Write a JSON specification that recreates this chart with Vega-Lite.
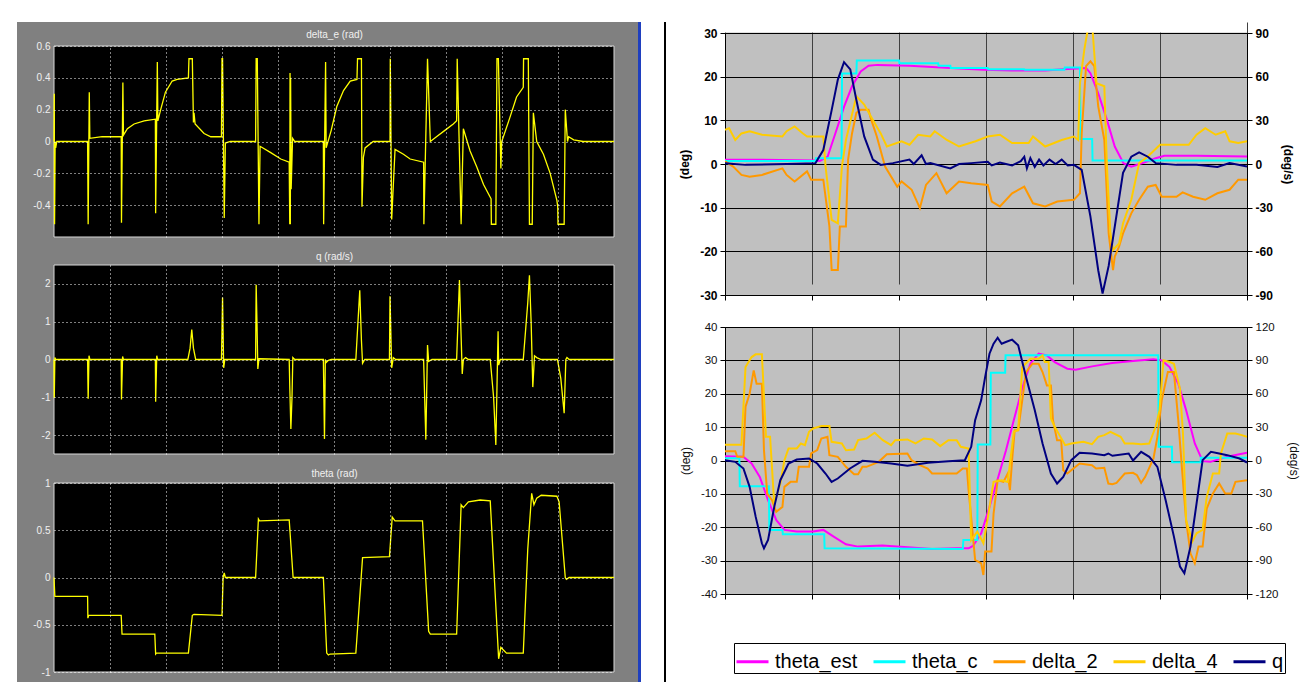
{
"$schema": "https://vega.github.io/schema/vega-lite/v6.json",
"background": "white",
"padding": {"left": 17, "top": 19, "right": 0, "bottom": 0},
"config": {
  "font": "Liberation Sans",
  "view": {"stroke": null},
  "legend": {"orient": "none", "legendX": 717, "legendY": 621, "direction": "horizontal", "symbolType": "stroke", "symbolSize": 1024, "symbolStrokeWidth": 3, "labelFontSize": 20, "labelFont": "Liberation Sans", "labelColor": "#000000", "labelOffset": 5, "columnPadding": 9, "padding": 1, "strokeColor": "#000000", "fillColor": "#ffffff", "symbolOpacity": 1}
},
"datasets": {
"de": [{"t":0,"v":0},{"t":0.005,"v":0.30},{"t":0.01,"v":-0.52},{"t":0.02,"v":0},{"t":0.03,"v":-0.04},{"t":0.05,"v":0},{"t":0.6,"v":0},{"t":0.61,"v":-0.52},{"t":0.63,"v":0.31},{"t":0.64,"v":0.02},{"t":0.86,"v":0.03},{"t":1.2,"v":0.03},{"t":1.205,"v":-0.51},{"t":1.23,"v":0.37},{"t":1.24,"v":0.04},{"t":1.31,"v":0.08},{"t":1.43,"v":0.11},{"t":1.61,"v":0.13},{"t":1.81,"v":0.14},{"t":1.815,"v":-0.45},{"t":1.845,"v":0.5},{"t":1.855,"v":0.13},{"t":1.905,"v":0.2},{"t":1.99,"v":0.31},{"t":2.11,"v":0.38},{"t":2.2,"v":0.39},{"t":2.4,"v":0.4},{"t":2.41,"v":0.52},{"t":2.47,"v":0.52},{"t":2.49,"v":0.12},{"t":2.5,"v":0.18},{"t":2.52,"v":0.11},{"t":2.68,"v":0.05},{"t":2.8,"v":0.03},{"t":2.99,"v":0.03},{"t":3.0,"v":0.52},{"t":3.01,"v":0.52},{"t":3.04,"v":-0.48},{"t":3.06,"v":-0.01},{"t":3.15,"v":0},{"t":3.6,"v":0},{"t":3.61,"v":0.52},{"t":3.63,"v":0.52},{"t":3.66,"v":-0.52},{"t":3.68,"v":-0.03},{"t":3.87,"v":-0.07},{"t":4.05,"v":-0.11},{"t":4.2,"v":-0.13},{"t":4.21,"v":-0.52},{"t":4.215,"v":0.43},{"t":4.22,"v":-0.52},{"t":4.225,"v":0.4},{"t":4.235,"v":-0.3},{"t":4.26,"v":0.02},{"t":4.3,"v":0},{"t":4.81,"v":0},{"t":4.815,"v":-0.52},{"t":4.85,"v":0.5},{"t":4.86,"v":-0.04},{"t":4.95,"v":0.07},{"t":5.05,"v":0.22},{"t":5.17,"v":0.32},{"t":5.29,"v":0.38},{"t":5.41,"v":0.39},{"t":5.42,"v":0.52},{"t":5.49,"v":0.52},{"t":5.5,"v":-0.41},{"t":5.525,"v":-0.1},{"t":5.555,"v":-0.04},{"t":5.7,"v":0},{"t":6.0,"v":0},{"t":6.005,"v":0.52},{"t":6.03,"v":-0.49},{"t":6.09,"v":-0.05},{"t":6.24,"v":-0.08},{"t":6.36,"v":-0.11},{"t":6.6,"v":-0.13},{"t":6.605,"v":-0.52},{"t":6.67,"v":0.52},{"t":6.72,"v":0},{"t":6.83,"v":0.03},{"t":6.98,"v":0.07},{"t":7.13,"v":0.11},{"t":7.19,"v":0.13},{"t":7.2,"v":0.52},{"t":7.27,"v":-0.52},{"t":7.31,"v":0.08},{"t":7.43,"v":-0.06},{"t":7.55,"v":-0.16},{"t":7.67,"v":-0.27},{"t":7.79,"v":-0.35},{"t":7.805,"v":-0.36},{"t":7.81,"v":-0.52},{"t":7.89,"v":-0.52},{"t":7.91,"v":0.52},{"t":7.935,"v":0.52},{"t":7.98,"v":-0.17},{"t":7.995,"v":0},{"t":8.14,"v":0.15},{"t":8.26,"v":0.28},{"t":8.38,"v":0.34},{"t":8.385,"v":0.52},{"t":8.47,"v":0.52},{"t":8.49,"v":-0.52},{"t":8.54,"v":-0.52},{"t":8.56,"v":0.18},{"t":8.62,"v":0},{"t":8.74,"v":-0.08},{"t":8.86,"v":-0.2},{"t":8.98,"v":-0.37},{"t":8.995,"v":-0.41},{"t":9.0,"v":-0.52},{"t":9.11,"v":-0.52},{"t":9.13,"v":0.2},{"t":9.17,"v":0},{"t":9.19,"v":0.03},{"t":9.28,"v":0.01},{"t":9.45,"v":0},{"t":10,"v":0}],
"qs": [{"t":0,"v":0},{"t":0.005,"v":-1.02},{"t":0.015,"v":0.05},{"t":0.03,"v":0},{"t":0.6,"v":0},{"t":0.61,"v":-1.04},{"t":0.625,"v":0.1},{"t":0.64,"v":0},{"t":1.2,"v":0},{"t":1.205,"v":-1.06},{"t":1.225,"v":0.08},{"t":1.24,"v":0},{"t":1.81,"v":0},{"t":1.815,"v":-1.12},{"t":1.835,"v":0.1},{"t":1.85,"v":0},{"t":2.39,"v":0},{"t":2.43,"v":0.3},{"t":2.46,"v":0.79},{"t":2.49,"v":0.3},{"t":2.53,"v":0},{"t":2.99,"v":0},{"t":3.0,"v":0.8},{"t":3.01,"v":1.64},{"t":3.03,"v":-0.22},{"t":3.05,"v":0},{"t":3.6,"v":0},{"t":3.61,"v":1.98},{"t":3.625,"v":0.95},{"t":3.64,"v":-0.25},{"t":3.66,"v":0.02},{"t":4.2,"v":0},{"t":4.21,"v":-0.7},{"t":4.23,"v":-1.84},{"t":4.25,"v":-1.0},{"t":4.265,"v":0.05},{"t":4.3,"v":0},{"t":4.81,"v":0},{"t":4.83,"v":-2.1},{"t":4.845,"v":0},{"t":4.86,"v":-0.08},{"t":4.9,"v":-0.02},{"t":4.95,"v":0},{"t":5.39,"v":0},{"t":5.46,"v":1.83},{"t":5.49,"v":0.5},{"t":5.51,"v":-0.1},{"t":5.55,"v":0},{"t":5.99,"v":0},{"t":6.0,"v":1.67},{"t":6.03,"v":-0.22},{"t":6.06,"v":0.05},{"t":6.1,"v":0},{"t":6.6,"v":0},{"t":6.64,"v":-2.12},{"t":6.67,"v":0.38},{"t":6.69,"v":-0.05},{"t":6.75,"v":0},{"t":7.19,"v":0},{"t":7.24,"v":2.1},{"t":7.29,"v":-0.38},{"t":7.31,"v":0},{"t":7.35,"v":0.05},{"t":7.4,"v":0},{"t":7.79,"v":0},{"t":7.85,"v":-1.0},{"t":7.89,"v":-2.26},{"t":7.93,"v":0.75},{"t":7.94,"v":-0.15},{"t":7.97,"v":0},{"t":8.38,"v":0},{"t":8.46,"v":1.5},{"t":8.49,"v":2.23},{"t":8.52,"v":1.0},{"t":8.55,"v":-0.73},{"t":8.58,"v":0.1},{"t":8.62,"v":0.05},{"t":8.7,"v":0},{"t":8.99,"v":0},{"t":9.05,"v":-0.5},{"t":9.11,"v":-1.42},{"t":9.14,"v":0},{"t":9.16,"v":0.05},{"t":9.2,"v":0},{"t":10,"v":0}],
"th": [{"t":0,"v":0},{"t":0.015,"v":-0.2},{"t":0.6,"v":-0.2},{"t":0.605,"v":-0.43},{"t":0.62,"v":-0.4},{"t":1.2,"v":-0.4},{"t":1.215,"v":-0.6},{"t":1.8,"v":-0.6},{"t":1.815,"v":-0.81},{"t":1.83,"v":-0.8},{"t":2.4,"v":-0.8},{"t":2.47,"v":-0.4},{"t":2.5,"v":-0.39},{"t":3.0,"v":-0.4},{"t":3.02,"v":0},{"t":3.04,"v":0.05},{"t":3.06,"v":0},{"t":3.6,"v":0},{"t":3.65,"v":0.62},{"t":3.67,"v":0.6},{"t":4.2,"v":0.61},{"t":4.27,"v":0},{"t":4.81,"v":0},{"t":4.87,"v":-0.8},{"t":4.9,"v":-0.82},{"t":4.93,"v":-0.81},{"t":5.39,"v":-0.8},{"t":5.51,"v":0.21},{"t":5.99,"v":0.22},{"t":6.04,"v":0.64},{"t":6.09,"v":0.6},{"t":6.58,"v":0.6},{"t":6.69,"v":-0.57},{"t":6.72,"v":-0.6},{"t":7.19,"v":-0.6},{"t":7.27,"v":0.77},{"t":7.31,"v":0.74},{"t":7.4,"v":0.8},{"t":7.61,"v":0.82},{"t":7.79,"v":0.81},{"t":7.94,"v":-0.86},{"t":7.98,"v":-0.74},{"t":8.08,"v":-0.8},{"t":8.38,"v":-0.8},{"t":8.46,"v":0.3},{"t":8.53,"v":0.89},{"t":8.57,"v":0.77},{"t":8.62,"v":0.84},{"t":8.7,"v":0.87},{"t":8.98,"v":0.86},{"t":9.02,"v":0.8},{"t":9.13,"v":0},{"t":9.15,"v":-0.02},{"t":9.2,"v":0},{"t":10,"v":0}],
"a_est": [{"t":0,"v":1.0},{"t":0.24,"v":1.0},{"t":1.04,"v":0.8},{"t":1.09,"v":0.7},{"t":1.18,"v":1.7},{"t":1.27,"v":7.1},{"t":1.37,"v":13.2},{"t":1.46,"v":17.8},{"t":1.56,"v":21.2},{"t":1.65,"v":22.5},{"t":1.75,"v":22.7},{"t":2.12,"v":22.5},{"t":2.59,"v":22.0},{"t":2.97,"v":21.6},{"t":3.3,"v":21.4},{"t":3.68,"v":21.4},{"t":3.89,"v":21.7},{"t":4.15,"v":22.0},{"t":4.2,"v":20.8},{"t":4.29,"v":16.2},{"t":4.39,"v":10.1},{"t":4.48,"v":4.0},{"t":4.58,"v":0.2},{"t":4.67,"v":-0.6},{"t":4.81,"v":0.3},{"t":4.95,"v":1.3},{"t":5.05,"v":1.9},{"t":5.42,"v":1.9},{"t":6.0,"v":1.7}],
"a_c": [{"t":0,"v":0.7},{"t":1.04,"v":0.7},{"t":1.045,"v":1.3},{"t":1.34,"v":1.3},{"t":1.345,"v":20.7},{"t":1.51,"v":20.7},{"t":1.515,"v":23.7},{"t":2.0,"v":23.7},{"t":2.005,"v":23.1},{"t":2.45,"v":23.1},{"t":2.455,"v":22.5},{"t":2.59,"v":22.5},{"t":2.595,"v":22.0},{"t":3.02,"v":22.0},{"t":3.025,"v":21.7},{"t":3.44,"v":21.7},{"t":3.445,"v":21.6},{"t":3.9,"v":21.6},{"t":3.905,"v":22.1},{"t":4.08,"v":22.1},{"t":4.085,"v":5.7},{"t":4.22,"v":5.7},{"t":4.225,"v":0.8},{"t":6.0,"v":0.8}],
"a_d2": [{"t":0,"v":0.6},{"t":0.094,"v":-0.6},{"t":0.189,"v":-2.5},{"t":0.283,"v":-2.9},{"t":0.425,"v":-2.5},{"t":0.66,"v":-1.0},{"t":0.708,"v":-2.5},{"t":0.8,"v":-4.0},{"t":0.943,"v":-1.7},{"t":0.99,"v":-3.6},{"t":1.13,"v":-3.6},{"t":1.17,"v":-9.7},{"t":1.2,"v":-14.3},{"t":1.226,"v":-24.3},{"t":1.297,"v":-24.3},{"t":1.32,"v":-14.3},{"t":1.39,"v":-14.3},{"t":1.415,"v":1.0},{"t":1.46,"v":7.0},{"t":1.51,"v":11.7},{"t":1.557,"v":12.4},{"t":1.65,"v":12.4},{"t":1.675,"v":10.5},{"t":1.745,"v":6.3},{"t":1.84,"v":-0.6},{"t":1.98,"v":-5.2},{"t":2.03,"v":-4.0},{"t":2.146,"v":-5.9},{"t":2.24,"v":-10.1},{"t":2.31,"v":-4.8},{"t":2.43,"v":-2.1},{"t":2.547,"v":-6.7},{"t":2.69,"v":-4.0},{"t":2.83,"v":-4.4},{"t":3.02,"v":-4.8},{"t":3.066,"v":-8.6},{"t":3.16,"v":-9.7},{"t":3.3,"v":-6.7},{"t":3.44,"v":-5.2},{"t":3.54,"v":-9.0},{"t":3.68,"v":-9.7},{"t":3.82,"v":-8.6},{"t":4.01,"v":-8.2},{"t":4.08,"v":-6.7},{"t":4.1,"v":7.0},{"t":4.15,"v":22.4},{"t":4.2,"v":23.5},{"t":4.245,"v":22.4},{"t":4.29,"v":13.2},{"t":4.36,"v":5.5},{"t":4.41,"v":-15.9},{"t":4.46,"v":-24.3},{"t":4.48,"v":-21.2},{"t":4.53,"v":-18.9},{"t":4.575,"v":-15.9},{"t":4.67,"v":-11.3},{"t":4.76,"v":-8.2},{"t":4.86,"v":-5.2},{"t":4.95,"v":-4.8},{"t":5.02,"v":-7.5},{"t":5.19,"v":-7.5},{"t":5.26,"v":-6.5},{"t":5.38,"v":-7.5},{"t":5.52,"v":-8.2},{"t":5.66,"v":-6.7},{"t":5.8,"v":-5.9},{"t":5.9,"v":-3.6},{"t":6.0,"v":-3.6}],
"a_d4": [{"t":0,"v":7.8},{"t":0.047,"v":8.2},{"t":0.118,"v":5.5},{"t":0.189,"v":7.0},{"t":0.283,"v":7.5},{"t":0.425,"v":6.7},{"t":0.66,"v":6.3},{"t":0.708,"v":7.5},{"t":0.8,"v":8.6},{"t":0.896,"v":7.0},{"t":0.943,"v":6.3},{"t":1.13,"v":6.3},{"t":1.156,"v":-0.6},{"t":1.226,"v":-12.8},{"t":1.297,"v":-13.6},{"t":1.344,"v":-0.6},{"t":1.39,"v":5.5},{"t":1.51,"v":15.5},{"t":1.6,"v":13.6},{"t":1.7,"v":10.1},{"t":1.79,"v":7.0},{"t":1.86,"v":4.0},{"t":2.03,"v":5.2},{"t":2.12,"v":4.4},{"t":2.22,"v":6.7},{"t":2.36,"v":6.3},{"t":2.41,"v":7.5},{"t":2.55,"v":5.5},{"t":2.69,"v":4.0},{"t":2.88,"v":5.2},{"t":3.02,"v":6.3},{"t":3.16,"v":6.7},{"t":3.3,"v":4.8},{"t":3.49,"v":4.8},{"t":3.54,"v":6.3},{"t":3.68,"v":4.0},{"t":3.87,"v":5.5},{"t":4.01,"v":6.3},{"t":4.06,"v":5.5},{"t":4.08,"v":18.5},{"t":4.13,"v":26.2},{"t":4.17,"v":30.8},{"t":4.22,"v":32.0},{"t":4.27,"v":18.5},{"t":4.36,"v":17.8},{"t":4.39,"v":-0.6},{"t":4.43,"v":-15.9},{"t":4.46,"v":-19.7},{"t":4.53,"v":-18.2},{"t":4.575,"v":-13.6},{"t":4.67,"v":-8.2},{"t":4.76,"v":0.2},{"t":4.86,"v":1.7},{"t":5.0,"v":4.4},{"t":5.33,"v":4.4},{"t":5.42,"v":6.7},{"t":5.52,"v":8.2},{"t":5.64,"v":6.7},{"t":5.75,"v":7.5},{"t":5.8,"v":5.2},{"t":5.9,"v":4.8},{"t":6.0,"v":5.2}],
"a_q": [{"t":0,"v":0.6},{"t":0.236,"v":-0.6},{"t":0.708,"v":0},{"t":1.04,"v":0.6},{"t":1.13,"v":9.6},{"t":1.226,"v":37},{"t":1.297,"v":58},{"t":1.368,"v":70},{"t":1.44,"v":65},{"t":1.51,"v":44},{"t":1.6,"v":19},{"t":1.7,"v":3},{"t":1.79,"v":-0.6},{"t":1.93,"v":0.6},{"t":2.12,"v":3},{"t":2.17,"v":0},{"t":2.26,"v":6},{"t":2.31,"v":0},{"t":2.36,"v":0.6},{"t":2.59,"v":-3},{"t":2.69,"v":0},{"t":2.83,"v":0.6},{"t":3.02,"v":1.5},{"t":3.066,"v":-1},{"t":3.16,"v":1},{"t":3.3,"v":-1},{"t":3.4,"v":2},{"t":3.44,"v":5},{"t":3.47,"v":-3},{"t":3.51,"v":4},{"t":3.56,"v":-2},{"t":3.61,"v":3},{"t":3.66,"v":-1},{"t":3.73,"v":3},{"t":3.8,"v":0},{"t":3.87,"v":3},{"t":3.94,"v":-1},{"t":4.01,"v":-0.6},{"t":4.1,"v":-4},{"t":4.2,"v":-36},{"t":4.29,"v":-73},{"t":4.34,"v":-89},{"t":4.41,"v":-70},{"t":4.48,"v":-43},{"t":4.575,"v":-6},{"t":4.67,"v":5},{"t":4.76,"v":8},{"t":4.86,"v":5},{"t":4.95,"v":0.6},{"t":5.19,"v":-0.6},{"t":5.42,"v":-0.6},{"t":5.66,"v":-2},{"t":5.8,"v":0.6},{"t":6.0,"v":-1.8}],
"b_est": [{"t":0,"v":1.3},{"t":0.21,"v":1.1},{"t":0.306,"v":-0.9},{"t":0.4,"v":-4.9},{"t":0.495,"v":-11.9},{"t":0.59,"v":-17.9},{"t":0.683,"v":-20.8},{"t":0.825,"v":-21.3},{"t":1.013,"v":-21.3},{"t":1.13,"v":-20.8},{"t":1.249,"v":-22.8},{"t":1.39,"v":-25.1},{"t":1.53,"v":-25.8},{"t":1.81,"v":-25.5},{"t":2.1,"v":-26.0},{"t":2.38,"v":-26.5},{"t":2.66,"v":-26.3},{"t":2.8,"v":-26.3},{"t":2.85,"v":-25.6},{"t":2.945,"v":-21.8},{"t":3.04,"v":-13.9},{"t":3.13,"v":-5.9},{"t":3.23,"v":3.1},{"t":3.32,"v":12.1},{"t":3.42,"v":22.0},{"t":3.51,"v":29.0},{"t":3.605,"v":32.0},{"t":3.7,"v":31.5},{"t":3.79,"v":29.5},{"t":3.935,"v":27.5},{"t":4.03,"v":27.2},{"t":4.22,"v":28.2},{"t":4.45,"v":29.2},{"t":4.69,"v":29.8},{"t":4.925,"v":30.3},{"t":5.02,"v":30.0},{"t":5.11,"v":28.0},{"t":5.21,"v":23.0},{"t":5.3,"v":15.1},{"t":5.4,"v":5.1},{"t":5.49,"v":-0.2},{"t":5.58,"v":-0.4},{"t":5.77,"v":1.1},{"t":6.0,"v":2.3}],
"b_c": [{"t":0,"v":0.7},{"t":0.165,"v":0.7},{"t":0.17,"v":-7.7},{"t":0.504,"v":-7.7},{"t":0.51,"v":-20.8},{"t":0.66,"v":-20.8},{"t":0.665,"v":-22.1},{"t":1.14,"v":-22.1},{"t":1.145,"v":-26.3},{"t":2.733,"v":-26.5},{"t":2.74,"v":-23.8},{"t":2.9,"v":-23.8},{"t":2.905,"v":4.8},{"t":3.05,"v":4.8},{"t":3.055,"v":26.3},{"t":3.22,"v":26.3},{"t":3.225,"v":31.5},{"t":4.98,"v":31.5},{"t":4.985,"v":4.1},{"t":5.137,"v":4.1},{"t":5.14,"v":-0.5},{"t":5.467,"v":-0.5},{"t":5.47,"v":0.8},{"t":6.0,"v":0.8}],
"b_d2": [{"t":0,"v":2.8},{"t":0.118,"v":2.8},{"t":0.141,"v":1.1},{"t":0.212,"v":1.1},{"t":0.236,"v":16.1},{"t":0.283,"v":20.0},{"t":0.33,"v":27.0},{"t":0.363,"v":23.0},{"t":0.424,"v":23.0},{"t":0.448,"v":3.1},{"t":0.485,"v":-9.9},{"t":0.54,"v":-11.9},{"t":0.589,"v":-15.4},{"t":0.66,"v":-13.9},{"t":0.683,"v":-7.9},{"t":0.754,"v":-6.4},{"t":0.825,"v":-6.4},{"t":0.848,"v":-1.9},{"t":0.966,"v":-1.9},{"t":0.99,"v":2.1},{"t":1.06,"v":3.1},{"t":1.107,"v":6.6},{"t":1.178,"v":7.1},{"t":1.2,"v":1.6},{"t":1.296,"v":1.1},{"t":1.39,"v":-1.9},{"t":1.484,"v":-4.1},{"t":1.53,"v":-4.1},{"t":1.58,"v":-1.9},{"t":1.626,"v":-1.9},{"t":1.767,"v":-0.4},{"t":1.86,"v":1.9},{"t":2.097,"v":2.1},{"t":2.144,"v":0.1},{"t":2.24,"v":-1.4},{"t":2.33,"v":-2.4},{"t":2.38,"v":-3.9},{"t":2.663,"v":-3.9},{"t":2.733,"v":-2.4},{"t":2.78,"v":-2.4},{"t":2.8,"v":-8.9},{"t":2.875,"v":-29.8},{"t":2.945,"v":-30.8},{"t":2.97,"v":-34.3},{"t":2.99,"v":-27.3},{"t":3.063,"v":-27.3},{"t":3.087,"v":-15.9},{"t":3.134,"v":-5.9},{"t":3.2,"v":-6.4},{"t":3.25,"v":-3.9},{"t":3.275,"v":-8.9},{"t":3.3,"v":0.1},{"t":3.33,"v":9.1},{"t":3.37,"v":9.1},{"t":3.417,"v":18.1},{"t":3.46,"v":26.5},{"t":3.534,"v":29.0},{"t":3.605,"v":29.0},{"t":3.65,"v":26.5},{"t":3.7,"v":22.5},{"t":3.746,"v":22.5},{"t":3.77,"v":12.1},{"t":3.817,"v":6.1},{"t":3.864,"v":6.1},{"t":3.888,"v":-2.9},{"t":3.935,"v":-3.9},{"t":3.98,"v":-2.9},{"t":4.076,"v":-0.9},{"t":4.218,"v":-1.4},{"t":4.265,"v":-2.4},{"t":4.36,"v":-2.2},{"t":4.406,"v":-6.9},{"t":4.453,"v":-7.1},{"t":4.5,"v":-6.7},{"t":4.595,"v":-3.9},{"t":4.69,"v":-3.7},{"t":4.736,"v":-4.4},{"t":4.783,"v":-6.7},{"t":4.83,"v":-4.9},{"t":4.925,"v":0.6},{"t":4.97,"v":7.1},{"t":5.02,"v":18.1},{"t":5.09,"v":26.5},{"t":5.16,"v":26.5},{"t":5.21,"v":12.1},{"t":5.254,"v":-2.9},{"t":5.3,"v":-17.9},{"t":5.35,"v":-27.8},{"t":5.4,"v":-30.8},{"t":5.443,"v":-25.8},{"t":5.49,"v":-25.8},{"t":5.537,"v":-14.4},{"t":5.608,"v":-9.9},{"t":5.68,"v":-6.9},{"t":5.75,"v":-9.9},{"t":5.82,"v":-9.9},{"t":5.867,"v":-6.4},{"t":6.0,"v":-5.9}],
"b_d4": [{"t":0,"v":4.7},{"t":0.189,"v":4.7},{"t":0.236,"v":28.0},{"t":0.306,"v":31.0},{"t":0.353,"v":31.8},{"t":0.424,"v":31.8},{"t":0.471,"v":7.1},{"t":0.518,"v":7.1},{"t":0.566,"v":-12.9},{"t":0.636,"v":-6.9},{"t":0.683,"v":0.1},{"t":0.73,"v":3.6},{"t":0.825,"v":3.6},{"t":0.872,"v":5.1},{"t":0.919,"v":4.6},{"t":0.966,"v":8.6},{"t":1.013,"v":9.6},{"t":1.107,"v":10.3},{"t":1.2,"v":10.3},{"t":1.225,"v":5.6},{"t":1.343,"v":5.1},{"t":1.39,"v":3.1},{"t":1.484,"v":3.3},{"t":1.53,"v":6.1},{"t":1.626,"v":6.6},{"t":1.72,"v":8.3},{"t":1.814,"v":6.1},{"t":1.909,"v":4.6},{"t":1.956,"v":6.1},{"t":2.097,"v":6.3},{"t":2.19,"v":5.1},{"t":2.286,"v":6.6},{"t":2.38,"v":6.3},{"t":2.474,"v":4.3},{"t":2.568,"v":6.1},{"t":2.663,"v":6.1},{"t":2.71,"v":4.1},{"t":2.8,"v":3.6},{"t":2.83,"v":-23.8},{"t":2.9,"v":-21.3},{"t":2.97,"v":-24.8},{"t":3.016,"v":-17.9},{"t":3.087,"v":-6.4},{"t":3.18,"v":-5.9},{"t":3.25,"v":-6.4},{"t":3.32,"v":8.6},{"t":3.37,"v":9.1},{"t":3.417,"v":28.0},{"t":3.51,"v":30.5},{"t":3.605,"v":30.5},{"t":3.65,"v":31.5},{"t":3.676,"v":29.5},{"t":3.72,"v":29.5},{"t":3.746,"v":12.6},{"t":3.79,"v":10.1},{"t":3.91,"v":4.6},{"t":3.98,"v":5.1},{"t":4.12,"v":5.6},{"t":4.218,"v":4.9},{"t":4.29,"v":7.1},{"t":4.36,"v":7.6},{"t":4.43,"v":8.6},{"t":4.548,"v":7.1},{"t":4.595,"v":5.1},{"t":4.69,"v":5.1},{"t":4.783,"v":4.9},{"t":4.877,"v":5.1},{"t":4.95,"v":10.1},{"t":4.995,"v":15.1},{"t":5.04,"v":30.0},{"t":5.113,"v":29.5},{"t":5.16,"v":29.0},{"t":5.23,"v":21.5},{"t":5.264,"v":8.1},{"t":5.3,"v":-17.9},{"t":5.372,"v":-24.3},{"t":5.42,"v":-21.8},{"t":5.49,"v":-20.8},{"t":5.537,"v":-10.9},{"t":5.608,"v":-3.9},{"t":5.68,"v":-3.9},{"t":5.7,"v":2.1},{"t":5.773,"v":8.1},{"t":5.867,"v":8.1},{"t":5.94,"v":7.6},{"t":6.0,"v":7.1}],
"b_q": [{"t":0,"v":0.3},{"t":0.118,"v":-1.2},{"t":0.212,"v":-7.2},{"t":0.283,"v":-23.7},{"t":0.353,"v":-50.7},{"t":0.424,"v":-74.4},{"t":0.448,"v":-78.9},{"t":0.495,"v":-71.4},{"t":0.566,"v":-41.7},{"t":0.636,"v":-17.7},{"t":0.73,"v":-2.7},{"t":0.825,"v":0.9},{"t":0.966,"v":1.8},{"t":1.06,"v":-2.7},{"t":1.155,"v":-11.7},{"t":1.225,"v":-19.2},{"t":1.296,"v":-16.2},{"t":1.437,"v":-7.2},{"t":1.58,"v":-0.3},{"t":1.72,"v":-1.2},{"t":1.909,"v":-2.7},{"t":2.097,"v":-4.8},{"t":2.333,"v":-2.1},{"t":2.568,"v":-0.6},{"t":2.757,"v":0.3},{"t":2.83,"v":12.3},{"t":2.875,"v":36.3},{"t":2.945,"v":54.3},{"t":2.99,"v":75},{"t":3.04,"v":96},{"t":3.087,"v":105},{"t":3.134,"v":110.4},{"t":3.18,"v":105},{"t":3.228,"v":106.5},{"t":3.3,"v":108.6},{"t":3.37,"v":103.5},{"t":3.46,"v":75},{"t":3.56,"v":45.3},{"t":3.65,"v":15.3},{"t":3.746,"v":-11.7},{"t":3.817,"v":-20.7},{"t":3.888,"v":-14.7},{"t":3.98,"v":0.3},{"t":4.076,"v":6.9},{"t":4.218,"v":6.3},{"t":4.36,"v":4.8},{"t":4.406,"v":6.3},{"t":4.453,"v":4.2},{"t":4.64,"v":6.3},{"t":4.69,"v":0},{"t":4.783,"v":7.8},{"t":4.877,"v":3.3},{"t":4.97,"v":-5.7},{"t":5.065,"v":-35.7},{"t":5.16,"v":-68.4},{"t":5.23,"v":-95.4},{"t":5.28,"v":-101.4},{"t":5.35,"v":-77.4},{"t":5.42,"v":-38.7},{"t":5.49,"v":0.3},{"t":5.585,"v":7.8},{"t":5.68,"v":6.3},{"t":5.773,"v":4.8},{"t":5.914,"v":1.8},{"t":6.0,"v":-1.8}]
},
"spacing": 11,
"hconcat": [
 {"vconcat": [
  {"width": 621, "height": 221, "view": {"fill": "#808080", "stroke": null},
   "layer": [
     {"data": {"name": "de"}, "transform": [{"filter": "datum.t == 0"}], "mark": {"type": "rect", "fill": "#000000", "stroke": "#d8d8d8", "strokeWidth": 1},
      "encoding": {"x": {"datum": 0, "type": "quantitative"}, "x2": {"datum": 10}, "y": {"datum": -0.6, "type": "quantitative"}, "y2": {"datum": 0.6}}},
     {"data": {"name": "de"}, "mark": {"type": "line", "color": "#ffff00", "strokeWidth": 1.3},
      "encoding": {
       "x": {"field": "t", "type": "quantitative", "scale": {"domain": [0, 10], "range": [37, 597], "nice": false, "zero": false},
         "axis": {"orient": "top", "offset": -24, "values": [1,2,3,4,5,6,7,8,9], "grid": true, "gridColor": "#ffffff", "gridDash": [1,3], "gridOpacity": 1, "domain": false, "ticks": false, "labels": false, "title": "delta_e (rad)", "titleColor": "#f0f0f0", "titleFontSize": 10, "titleFontWeight": "normal", "titlePadding": 7, "zindex": 1}},
       "y": {"field": "v", "type": "quantitative", "scale": {"domain": [-0.6, 0.6], "range": [215, 24], "nice": false, "zero": false},
         "axis": {"orient": "left", "offset": -37, "values": [-0.4,-0.2,0,0.2,0.4,0.6], "grid": true, "gridColor": "#ffffff", "gridDash": [1,3], "gridOpacity": 1, "domain": false, "ticks": false, "tickSize": 0, "labelColor": "#f0f0f0", "labelFontSize": 10, "labelPadding": 4, "labelExpr": "'' + datum.value", "title": null, "zindex": 1}}}},
     {"data": {"name": "de"}, "transform": [{"filter": "datum.t == 0"}], "mark": {"type": "rule", "color": "#1f3fbf", "strokeWidth": 3}, "encoding": {"x": {"datum": 10.455, "type": "quantitative"}}},
     {"data": {"name": "de"}, "transform": [{"filter": "datum.t == 0"}], "mark": {"type": "rule", "color": "#000000", "strokeWidth": 2}, "encoding": {"x": {"datum": 10.911, "type": "quantitative"}}}
   ]},
  {"width": 621, "height": 218, "view": {"fill": "#808080", "stroke": null},
   "layer": [
     {"data": {"name": "qs"}, "transform": [{"filter": "datum.t == 0"}], "mark": {"type": "rect", "fill": "#000000", "stroke": "#d8d8d8", "strokeWidth": 1},
      "encoding": {"x": {"datum": 0, "type": "quantitative"}, "x2": {"datum": 10}, "y": {"datum": -2.5, "type": "quantitative"}, "y2": {"datum": 2.5}}},
     {"data": {"name": "qs"}, "mark": {"type": "line", "color": "#ffff00", "strokeWidth": 1.3},
      "encoding": {
       "x": {"field": "t", "type": "quantitative", "scale": {"domain": [0, 10], "range": [37, 597], "nice": false, "zero": false},
         "axis": {"orient": "top", "offset": -22, "values": [1,2,3,4,5,6,7,8,9], "grid": true, "gridColor": "#ffffff", "gridDash": [1,3], "gridOpacity": 1, "domain": false, "ticks": false, "labels": false, "title": "q (rad/s)", "titleColor": "#f0f0f0", "titleFontSize": 10, "titleFontWeight": "normal", "titlePadding": 4, "zindex": 1}},
       "y": {"field": "v", "type": "quantitative", "scale": {"domain": [-2.5, 2.5], "range": [211, 22], "nice": false, "zero": false},
         "axis": {"orient": "left", "offset": -37, "values": [-2,-1,0,1,2], "grid": true, "gridColor": "#ffffff", "gridDash": [1,3], "gridOpacity": 1, "domain": false, "ticks": false, "tickSize": 0, "labelColor": "#f0f0f0", "labelFontSize": 10, "labelPadding": 4, "labelExpr": "'' + datum.value", "title": null, "zindex": 1}}}},
     {"data": {"name": "qs"}, "transform": [{"filter": "datum.t == 0"}], "mark": {"type": "rule", "color": "#1f3fbf", "strokeWidth": 3}, "encoding": {"x": {"datum": 10.455, "type": "quantitative"}}},
     {"data": {"name": "qs"}, "transform": [{"filter": "datum.t == 0"}], "mark": {"type": "rule", "color": "#000000", "strokeWidth": 2}, "encoding": {"x": {"datum": 10.911, "type": "quantitative"}}}
   ]},
  {"width": 621, "height": 221, "view": {"fill": "#808080", "stroke": null},
   "layer": [
     {"data": {"name": "th"}, "transform": [{"filter": "datum.t == 0"}], "mark": {"type": "rect", "fill": "#000000", "stroke": "#d8d8d8", "strokeWidth": 1},
      "encoding": {"x": {"datum": 0, "type": "quantitative"}, "x2": {"datum": 10}, "y": {"datum": -1, "type": "quantitative"}, "y2": {"datum": 1}}},
     {"data": {"name": "th"}, "mark": {"type": "line", "color": "#ffff00", "strokeWidth": 1.3},
      "encoding": {
       "x": {"field": "t", "type": "quantitative", "scale": {"domain": [0, 10], "range": [37, 597], "nice": false, "zero": false},
         "axis": {"orient": "top", "offset": -22, "values": [1,2,3,4,5,6,7,8,9], "grid": true, "gridColor": "#ffffff", "gridDash": [1,3], "gridOpacity": 1, "domain": false, "ticks": false, "labels": false, "title": "theta (rad)", "titleColor": "#f0f0f0", "titleFontSize": 10, "titleFontWeight": "normal", "titlePadding": 5, "zindex": 1}},
       "y": {"field": "v", "type": "quantitative", "scale": {"domain": [-1, 1], "range": [211, 22], "nice": false, "zero": false},
         "axis": {"orient": "left", "offset": -37, "values": [-1,-0.5,0,0.5,1], "grid": true, "gridColor": "#ffffff", "gridDash": [1,3], "gridOpacity": 1, "domain": false, "ticks": false, "tickSize": 0, "labelColor": "#f0f0f0", "labelFontSize": 10, "labelPadding": 4, "labelExpr": "'' + datum.value", "title": null, "zindex": 1}}}},
     {"data": {"name": "th"}, "transform": [{"filter": "datum.t == 0"}], "mark": {"type": "rule", "color": "#1f3fbf", "strokeWidth": 3}, "encoding": {"x": {"datum": 10.455, "type": "quantitative"}}},
     {"data": {"name": "th"}, "transform": [{"filter": "datum.t == 0"}], "mark": {"type": "rule", "color": "#000000", "strokeWidth": 2}, "encoding": {"x": {"datum": 10.911, "type": "quantitative"}}}
   ]}
 ], "spacing": 0, "bounds": "flush"},
 {"vconcat": [
  {"width": 522, "height": 273, "view": {"fill": "#c0c0c0", "stroke": null},
   "encoding": {"x": {"field": "t", "type": "quantitative", "scale": {"domain": [0, 6], "nice": false, "zero": false},
      "axis": {"values": [0,1,2,3,4,5,6], "labels": false, "grid": true, "gridColor": "#404040", "gridOpacity": 1, "domainColor": "#000000", "tickColor": "#000000", "tickSize": 5, "title": null}}},
   "layer": [
    {"encoding": {"y": {"field": "v", "type": "quantitative", "scale": {"domain": [-30, 30], "range": [273, 11], "nice": false, "zero": false},
        "axis": {"orient": "left", "values": [-30,-20,-10,0,10,20,30], "grid": true, "gridColor": "#000000", "gridOpacity": 1, "domainColor": "#000000", "tickColor": "#000000", "tickSize": 5, "labelColor": "#000000", "labelFontSize": 12, "labelFontWeight": "bold", "labelPadding": 3, "labelExpr": "'' + datum.value", "title": "(deg)", "titleColor": "#000000", "titleFontSize": 12, "titleFontWeight": "bold", "titlePadding": 8}}},
     "layer": [
      {"data": {"name": "a_est"}, "mark": {"type": "line", "strokeWidth": 2, "clip": true}, "encoding": {"color": {"datum": "theta_est", "type": "nominal", "title": null, "scale": {"domain": ["theta_est","theta_c","delta_2","delta_4","q"], "range": ["#ff00ff","#00ffff","#ff9900","#ffcc00","#000080"]}}}},
      {"data": {"name": "a_c"}, "mark": {"type": "line", "strokeWidth": 2, "clip": true}, "encoding": {"color": {"datum": "theta_c", "type": "nominal", "title": null, "scale": {"domain": ["theta_est","theta_c","delta_2","delta_4","q"], "range": ["#ff00ff","#00ffff","#ff9900","#ffcc00","#000080"]}}}},
      {"data": {"name": "a_d2"}, "mark": {"type": "line", "strokeWidth": 2, "clip": true}, "encoding": {"color": {"datum": "delta_2", "type": "nominal", "title": null, "scale": {"domain": ["theta_est","theta_c","delta_2","delta_4","q"], "range": ["#ff00ff","#00ffff","#ff9900","#ffcc00","#000080"]}}}},
      {"data": {"name": "a_d4"}, "mark": {"type": "line", "strokeWidth": 2, "clip": true}, "encoding": {"color": {"datum": "delta_4", "type": "nominal", "title": null, "scale": {"domain": ["theta_est","theta_c","delta_2","delta_4","q"], "range": ["#ff00ff","#00ffff","#ff9900","#ffcc00","#000080"]}}}},
      {"data": {"name": "a_c"}, "transform": [{"filter": "datum.t == 0"}], "mark": {"type": "rect", "fill": "#ffffff", "stroke": null},
       "encoding": {"x": {"datum": 0, "type": "quantitative"}, "x2": {"datum": 6}, "y": {"datum": 30.12, "type": "quantitative"}, "y2": {"datum": 33}}}
     ]},
    {"data": {"name": "a_q"}, "mark": {"type": "line", "strokeWidth": 2, "clip": true},
     "encoding": {"y": {"field": "v", "type": "quantitative", "scale": {"domain": [-90, 90], "range": [273, 11], "nice": false, "zero": false},
        "axis": {"orient": "right", "values": [-90,-60,-30,0,30,60,90], "grid": false, "domainColor": "#000000", "tickColor": "#000000", "tickSize": 5, "labelColor": "#000000", "labelFontSize": 12, "labelFontWeight": "bold", "labelPadding": 3, "labelExpr": "'' + datum.value", "title": "(deg/s)", "titleColor": "#000000", "titleFontSize": 12, "titleFontWeight": "bold", "titlePadding": 8}},
       "color": {"datum": "q", "type": "nominal", "title": null, "scale": {"domain": ["theta_est","theta_c","delta_2","delta_4","q"], "range": ["#ff00ff","#00ffff","#ff9900","#ffcc00","#000080"]}}}}
   ],
   "resolve": {"scale": {"y": "independent"}, "axis": {"y": "independent"}}},
  {"width": 522, "height": 267, "view": {"fill": "#c0c0c0", "stroke": "#000000", "strokeWidth": 1},
   "encoding": {"x": {"field": "t", "type": "quantitative", "scale": {"domain": [0, 6], "nice": false, "zero": false},
      "axis": {"values": [0,1,2,3,4,5,6], "labels": false, "grid": true, "gridColor": "#404040", "gridOpacity": 1, "domainColor": "#000000", "tickColor": "#000000", "tickSize": 5, "title": null}}},
   "layer": [
    {"encoding": {"y": {"field": "v", "type": "quantitative", "scale": {"domain": [-40, 40], "nice": false, "zero": false},
        "axis": {"orient": "left", "values": [-40,-30,-20,-10,0,10,20,30,40], "grid": true, "gridColor": "#000000", "gridOpacity": 1, "domainColor": "#000000", "tickColor": "#000000", "tickSize": 5, "labelColor": "#111111", "labelFontSize": 11.5, "labelPadding": 3, "labelExpr": "'' + datum.value", "title": "(deg)", "titleColor": "#111111", "titleFontSize": 12, "titleFontWeight": "normal", "titlePadding": 8}}},
     "layer": [
      {"data": {"name": "b_est"}, "mark": {"type": "line", "strokeWidth": 2, "clip": true}, "encoding": {"color": {"datum": "theta_est", "type": "nominal", "title": null, "scale": {"domain": ["theta_est","theta_c","delta_2","delta_4","q"], "range": ["#ff00ff","#00ffff","#ff9900","#ffcc00","#000080"]}}}},
      {"data": {"name": "b_c"}, "mark": {"type": "line", "strokeWidth": 2, "clip": true}, "encoding": {"color": {"datum": "theta_c", "type": "nominal", "title": null, "scale": {"domain": ["theta_est","theta_c","delta_2","delta_4","q"], "range": ["#ff00ff","#00ffff","#ff9900","#ffcc00","#000080"]}}}},
      {"data": {"name": "b_d2"}, "mark": {"type": "line", "strokeWidth": 2, "clip": true}, "encoding": {"color": {"datum": "delta_2", "type": "nominal", "title": null, "scale": {"domain": ["theta_est","theta_c","delta_2","delta_4","q"], "range": ["#ff00ff","#00ffff","#ff9900","#ffcc00","#000080"]}}}},
      {"data": {"name": "b_d4"}, "mark": {"type": "line", "strokeWidth": 2, "clip": true}, "encoding": {"color": {"datum": "delta_4", "type": "nominal", "title": null, "scale": {"domain": ["theta_est","theta_c","delta_2","delta_4","q"], "range": ["#ff00ff","#00ffff","#ff9900","#ffcc00","#000080"]}}}}
     ]},
    {"data": {"name": "b_q"}, "mark": {"type": "line", "strokeWidth": 2, "clip": true},
     "encoding": {"y": {"field": "v", "type": "quantitative", "scale": {"domain": [-120, 120], "nice": false, "zero": false},
        "axis": {"orient": "right", "values": [-120,-90,-60,-30,0,30,60,90,120], "grid": false, "domainColor": "#000000", "tickColor": "#000000", "tickSize": 5, "labelColor": "#111111", "labelFontSize": 11.5, "labelPadding": 3, "labelExpr": "'' + datum.value", "title": "(deg/s)", "titleColor": "#111111", "titleFontSize": 12, "titleFontWeight": "normal", "titlePadding": 8}},
       "color": {"datum": "q", "type": "nominal", "title": null, "scale": {"domain": ["theta_est","theta_c","delta_2","delta_4","q"], "range": ["#ff00ff","#00ffff","#ff9900","#ffcc00","#000080"]}}}}
   ],
   "resolve": {"scale": {"y": "independent"}, "axis": {"y": "independent"}}}
 ], "spacing": 32, "bounds": "flush"}
]
}
